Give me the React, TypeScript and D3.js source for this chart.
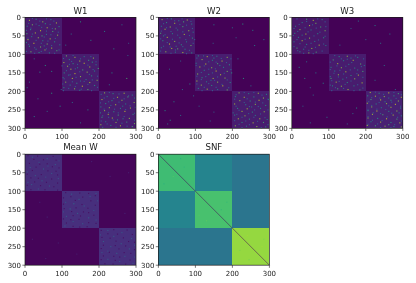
import React from "react";
import * as d3 from "d3";

type Spot = [number, number, number];

const ticksX = [0, 100, 200, 300];
const ticksY = [0, 50, 100, 150, 200, 250, 300];
const blockEdges = [0, 100, 200, 300];

const levelsW1 = [[0.075, 0.004, 0.004], [0.004, 0.08, 0.004], [0.004, 0.004, 0.08]];
const levelsW2 = [[0.075, 0.004, 0.004], [0.004, 0.08, 0.004], [0.004, 0.004, 0.08]];
const levelsW3 = [[0.065, 0.004, 0.004], [0.004, 0.075, 0.004], [0.004, 0.004, 0.09]];
const levelsMean = [[0.125, 0.012, 0.012], [0.012, 0.135, 0.012], [0.012, 0.012, 0.135]];
const levelsSNF = [[0.69, 0.45, 0.39], [0.45, 0.71, 0.39], [0.39, 0.39, 0.84]];

const spotsW1: Spot[] = [
  [8,12,.9],[5,30,.6],[12,48,.85],[6,70,.5],[15,85,.9],[20,20,.8],[24,6,.5],[22,38,.45],[28,60,.9],[25,92,.6],
  [33,15,.6],[36,42,.95],[38,75,.7],[42,28,.9],[44,5,.7],[46,58,.5],[48,88,.85],[52,18,.5],[55,36,.85],[58,68,.9],
  [60,8,.9],[63,48,.5],[66,80,.6],[70,24,.95],[72,60,.8],[74,94,.5],[78,12,.6],[80,42,.8],[83,72,.9],[86,30,.5],
  [88,54,.85],[90,86,.7],[93,16,.8],[95,38,.6],[96,66,.5],[17,55,.6],[31,82,.8],[50,46,.7],[68,4,.5],[77,52,.45],
  [104,112,.8],[108,135,.9],[106,160,.5],[110,185,.85],[114,120,.5],[118,148,.9],[116,172,.65],[122,105,.9],[125,130,.6],[124,160,.95],
  [128,192,.5],[132,115,.85],[136,142,.5],[134,175,.9],[140,124,.9],[142,156,.7],[145,188,.55],[150,106,.6],[152,135,.95],[148,168,.85],
  [156,118,.5],[160,150,.85],[158,180,.6],[165,128,.9],[168,165,.5],[170,195,.85],[175,110,.85],[178,140,.6],[176,175,.9],[183,122,.5],
  [186,155,.95],[184,188,.6],[190,105,.6],[193,134,.85],[195,170,.75],[197,148,.5],[121,182,.6],[172,150,.45],[138,198,.7],[163,103,.5],
  [204,215,.85],[206,238,.6],[205,268,.9],[210,290,.5],[214,222,.5],[216,250,.9],[215,278,.7],[222,208,.9],[225,235,.6],[224,262,.85],
  [230,295,.85],[233,218,.6],[236,245,.9],[234,272,.5],[242,205,.55],[244,228,.85],[246,258,.5],[245,285,.9],[252,215,.85],[255,240,.6],
  [254,270,.95],[262,225,.9],[264,252,.7],[262,292,.6],[270,208,.65],[272,236,.9],[274,265,.5],[273,282,.85],[282,218,.5],[284,246,.85],
  [283,275,.65],[290,205,.85],[292,232,.55],[293,258,.9],[295,290,.7],[240,264,.45],[258,204,.5],[277,250,.6],[218,296,.45],[287,296,.8],
  [12,150,.6],[20,262,.4],[38,215,.5],[45,125,.4],[62,178,.5],[70,280,.3],[85,240,.5],[112,25,.4],[130,55,.6],[148,40,.5],[146,72,.5],
  [175,12,.4],[150,235,.5],[165,275,.7],[182,228,.4],[195,98,.4],[205,72,.6],[220,35,.4],[240,95,.5],[254,60,.4],[268,25,.5],[285,150,.4],[250,170,.5],[230,128,.4],[103,278,.35],[190,6,.4],[75,110,.4]
];

const faintW1 = [
  [3,20],[10,40],[4,58],[10,78],[16,10],[18,30],[19,68],[27,45],[29,16],[30,74],[35,4],[37,58],[40,90],[45,20],[47,70],[53,52],[56,8],[57,82],[62,30],[64,62],[70,44],[73,10],[76,72],[82,26],[85,58],[88,92],[92,4],[92,44],[97,26],[97,80],
  [103,130],[106,178],[111,104],[112,150],[119,126],[120,192],[127,142],[129,170],[131,100],[139,136],[141,184],[144,112],[147,148],[154,174],[155,122],[159,196],[162,138],[166,106],[169,182],[174,128],[173,160],[180,102],[181,170],[187,136],[189,196],[192,118],[194,152],[198,104],[198,180],[127,120],
  [203,228],[207,254],[208,206],[212,280],[218,214],[219,240],[220,268],[228,226],[229,254],[231,204],[238,232],[239,284],[243,298],[248,214],[249,272],[257,226],[258,252],[259,296],[266,210],[268,268],[270,226],[277,238],[278,296],[280,206],[286,262],[288,222],[294,276],[297,246],[297,210],[248,242]
];

const spotsW2: Spot[] = [
  [6,10,.85],[4,35,.6],[9,55,.5],[7,78,.9],[14,22,.6],[16,44,.9],[18,90,.5],[24,8,.5],[26,32,.85],[25,66,.7],
  [32,18,.9],[34,52,.5],[36,82,.85],[43,6,.7],[44,38,.55],[46,70,.9],[54,24,.9],[55,58,.5],[56,92,.6],[63,12,.6],
  [65,44,.85],[66,76,.5],[72,30,.95],[74,62,.6],[76,88,.8],[82,8,.5],[84,36,.9],[85,52,.75],[86,72,.5],[93,20,.85],
  [94,46,.5],[95,66,.9],[96,90,.6],[40,94,.5],[60,98,.45],[12,68,.7],[50,14,.5],[78,48,.45],
  [104,108,.6],[106,132,.9],[105,158,.5],[108,186,.85],[114,118,.85],[116,146,.55],[118,172,.9],[124,102,.5],[126,128,.95],[125,160,.7],
  [128,192,.6],[134,112,.9],[136,144,.85],[135,176,.55],[143,124,.55],[145,156,.95],[146,186,.8],[153,106,.85],[154,136,.6],[155,168,.9],
  [163,118,.6],[165,148,.9],[164,180,.85],[172,104,.9],[174,130,.5],[175,160,.85],[176,194,.55],[183,116,.85],[184,144,.6],[185,174,.95],
  [192,108,.55],[194,132,.9],[195,160,.5],[196,186,.8],[130,166,.5],[170,142,.45],[150,198,.6],[110,150,.5],
  [204,218,.85],[206,244,.5],[205,270,.9],[208,292,.55],[214,208,.55],[216,232,.9],[215,258,.6],[218,284,.85],[225,220,.85],[226,248,.6],
  [224,272,.95],[234,206,.9],[236,236,.5],[235,262,.85],[238,290,.6],[246,214,.6],[247,240,.9],[246,276,.55],[254,226,.9],[256,254,.6],
  [255,286,.85],[264,206,.55],[266,234,.85],[265,262,.5],[274,216,.9],[275,246,.6],[274,274,.9],[276,294,.5],[284,226,.6],[285,256,.9],
  [284,284,.7],[293,208,.85],[294,238,.5],[295,266,.85],[296,290,.6],[258,202,.45],[242,252,.45],[222,298,.5],
  [18,228,.6],[20,150,.45],[28,200,.4],[35,255,.5],[55,210,.35],[60,285,.45],[76,260,.5],[70,148,.35],[112,215,.4],[118,60,.35],[140,30,.4],
  [165,230,.6],[180,85,.5],[195,65,.4],[212,95,.4],[228,42,.5],[252,18,.55],[265,60,.4],[278,32,.55],[280,140,.4],[256,150,.35],[240,110,.35],[288,25,.4],[185,250,.4]
];

const faintW2 = [
  [3,24],[4,64],[9,44],[11,88],[17,14],[19,58],[21,76],[28,22],[29,48],[30,92],[37,8],[38,34],[39,66],[47,18],[48,52],[49,84],[58,6],[59,38],[60,74],[68,24],[69,56],[70,94],[78,14],[79,66],[80,32],[88,46],[89,84],[91,6],[97,34],[98,76],
  [103,146],[104,122],[110,104],[111,170],[112,196],[120,136],[121,156],[122,184],[130,102],[131,124],[139,154],[140,136],[141,196],[149,116],[150,146],[151,178],[159,104],[160,128],[161,160],[169,186],[168,116],[170,152],[179,136],[180,104],[181,172],[189,124],[189,156],[190,190],[198,118],[198,146],
  [203,232],[203,258],[209,210],[210,280],[220,240],[221,296],[221,206],[229,262],[230,232],[231,282],[240,210],[241,246],[241,270],[250,296],[251,218],[250,260],[260,244],[261,276],[262,212],[270,226],[270,258],[271,288],[279,206],[280,236],[281,268],[289,218],[290,246],[290,296],[298,226],[298,278]
];

const spotsW3: Spot[] = [
  [5,40,.7],[8,58,.9],[6,82,.6],[14,28,.5],[16,65,.8],[22,48,.9],[24,10,.5],[26,78,.7],[33,22,.85],[34,52,.5],
  [36,90,.8],[43,8,.6],[45,38,.9],[44,70,.55],[54,18,.55],[56,48,.85],[55,86,.6],[63,28,.9],[65,62,.5],[66,6,.5],
  [73,40,.55],[75,74,.9],[76,92,.5],[83,14,.7],[84,54,.85],[86,32,.5],[93,22,.55],[94,66,.7],[96,46,.85],[48,28,.45],
  [106,128,.6],[105,150,.85],[108,178,.55],[115,112,.7],[117,140,.5],[116,166,.9],[125,124,.9],[127,154,.5],[126,186,.75],[135,106,.55],
  [136,134,.85],[137,170,.55],[145,116,.5],[147,146,.9],[146,192,.7],[155,126,.85],[157,160,.6],[156,180,.9],[165,106,.7],[167,138,.55],
  [166,170,.85],[175,120,.9],[176,150,.6],[177,190,.9],[185,110,.55],[186,134,.85],[185,168,.55],[193,124,.7],[195,152,.9],[196,184,.6],
  [130,196,.45],[160,104,.45],[110,160,.45],[142,178,.45],
  [203,212,.9],[205,236,.6],[204,262,.95],[206,288,.7],[212,205,.6],[213,226,.9],[214,250,.85],[212,276,.6],[216,296,.9],[222,214,.7],
  [223,240,.95],[224,268,.6],[226,288,.85],[232,204,.9],[234,228,.55],[233,256,.85],[235,280,.95],[242,216,.85],[244,242,.5],[243,268,.9],
  [245,294,.6],[252,206,.6],[253,230,.95],[254,262,.55],[253,284,.85],[262,218,.9],[263,246,.7],[264,274,.9],[266,296,.55],[272,206,.85],
  [273,232,.6],[274,256,.95],[275,284,.7],[282,214,.55],[283,240,.9],[284,268,.6],[285,292,.9],[292,204,.9],[293,226,.7],[294,252,.85],
  [295,276,.55],[296,296,.85],[228,252,.5],[258,290,.5],[290,262,.7],[218,262,.45],
  [10,180,.45],[22,225,.5],[30,160,.35],[45,265,.45],[60,200,.4],[75,130,.35],[70,240,.4],[120,40,.4],[135,20,.5],[150,65,.45],[165,35,.5],
  [178,85,.5],[190,50,.4],[130,250,.45],[170,225,.4],[195,280,.4],[210,58,.4],[225,130,.4],[240,30,.35],[260,165,.4],[270,95,.45],[285,50,.4],[245,175,.55],[288,150,.35]
];

const faintW3 = [
  [4,14],[4,70],[11,40],[12,90],[19,20],[20,56],[28,36],[29,66],[30,6],[38,16],[39,44],[40,76],[49,4],[50,60],[51,90],[59,36],[60,14],[61,72],[70,52],[71,22],[72,86],[79,6],[80,36],[81,64],[89,46],[90,16],[91,82],[97,32],[98,58],[25,92],
  [103,116],[104,172],[112,134],[112,194],[113,150],[121,104],[122,162],[131,122],[132,146],[133,188],[141,104],[142,158],[143,130],[151,114],[152,176],[153,140],[161,126],[162,192],[163,148],[171,108],[172,160],[173,128],[181,144],[182,178],[183,104],[190,118],[191,192],[192,140],[198,108],[198,168],
  [202,226],[203,276],[208,248],[209,296],[217,216],[218,238],[219,282],[228,208],[229,270],[230,236],[238,216],[239,262],[240,294],[248,230],[249,254],[250,206],[258,220],[259,270],[260,240],[268,206],[269,258],[270,286],[278,218],[279,244],[280,296],[288,232],[289,206],[290,278],[298,240],[298,268]
];

const spotsMean: Spot[] = [
  [8,20,.32],[12,60,.34],[22,38,.3],[28,82,.33],[36,14,.34],[40,50,.36],[52,72,.32],[58,28,.34],[66,90,.3],[72,46,.35],
  [82,18,.32],[86,66,.34],[94,36,.3],[18,92,.28],[48,6,.3],[76,8,.3],[32,62,.28],[62,56,.28],
  [108,126,.34],[114,176,.32],[122,146,.36],[130,110,.32],[134,132,.42],[140,160,.34],[148,122,.4],[152,186,.3],[160,142,.35],[168,112,.34],
  [172,172,.36],[182,130,.32],[188,156,.34],[194,108,.3],[106,192,.28],[126,196,.28],[156,104,.28],[178,192,.3],
  [206,224,.34],[212,262,.32],[222,240,.36],[228,288,.32],[236,212,.34],[242,260,.36],[250,232,.34],[256,282,.35],[266,208,.3],[268,248,.36],
  [276,270,.34],[284,224,.34],[290,256,.33],[295,292,.3],[218,204,.28],[246,296,.3],[278,296,.28],[262,224,.28],
  [20,180,.12],[60,230,.11],[130,40,.12],[170,60,.13],[240,90,.12],[270,140,.1],[50,280,.11],[160,270,.12],[230,20,.11],[282,56,.12]
];

const faintMean = [
  [4,8],[5,34],[6,76],[14,24],[15,50],[16,84],[25,12],[26,60],[27,40],[34,74],[35,30],[37,92],[44,20],[45,62],[46,84],[54,6],[55,44],[56,88],[64,16],[65,36],[67,72],[75,26],[76,58],[78,88],[84,6],[85,42],[88,78],[96,16],[96,54],[97,88],
  [104,110],[105,148],[106,172],[115,124],[116,156],[118,104],[125,136],[126,178],[135,104],[136,154],[138,190],[145,138],[146,170],[147,106],[155,126],[156,158],[165,186],[166,130],[167,150],[175,104],[176,146],[177,124],[185,172],[186,112],[187,192],[195,130],[196,168],[197,148],[112,190],[158,172],
  [204,240],[205,276],[206,206],[215,224],[216,250],[217,290],[225,208],[226,266],[227,230],[235,246],[236,280],[238,296],[246,212],[247,244],[248,272],[255,206],[256,254],[258,296],[265,228],[266,268],[268,286],[275,212],[276,240],[278,256],[285,206],[286,284],[287,244],[296,216],[297,238],[297,272]
];

const spotsSNF: Spot[] = [
  [20,20,.72],[35,70,.64],[60,40,.74],[80,15,.63],[72,85,.72],[12,60,.62],
  [120,120,.75],[150,170,.64],[180,130,.76],[130,185,.66],[165,110,.74],
  [220,240,.87],[260,220,.79],[250,280,.87],[285,245,.79],[230,285,.8]
];

const noFaint: number[][] = [];
const faintValue = 0.27;
const faintValueMean = 0.04;
const spotOpacity = 0.72;

const diagonalEnds = [0, 300];
const diagonalOpacity = 0.5;

const axisLeft = [25, 158.4, 291.8, 25, 158.4];
const axisTop = [17.4, 17.4, 17.4, 154.2, 154.2];
const side = 111;

const panels = [
  { title: "W1", levels: levelsW1, spots: spotsW1, faint: faintW1, faintV: faintValue, diagonal: false },
  { title: "W2", levels: levelsW2, spots: spotsW2, faint: faintW2, faintV: faintValue, diagonal: false },
  { title: "W3", levels: levelsW3, spots: spotsW3, faint: faintW3, faintV: faintValue, diagonal: false },
  { title: "Mean W", levels: levelsMean, spots: spotsMean, faint: faintMean, faintV: faintValueMean, diagonal: false },
  { title: "SNF", levels: levelsSNF, spots: spotsSNF, faint: noFaint, faintV: faintValue, diagonal: true },
];

const ink = "#1c1c1c";
const font = "'DejaVu Sans', sans-serif";

function Panel({ p, left, top }: { p: (typeof panels)[number]; left: number; top: number }) {
  const x = d3.scaleLinear().domain([0, 300]).range([left, left + side]);
  const y = d3.scaleLinear().domain([0, 300]).range([top, top + side]);
  const cell = x(3) - x(0);
  return (
    <g>
      {p.levels.map((row, r) =>
        row.map((v, c) => (
          <rect
            key={`${r}-${c}`}
            x={x(blockEdges[c])}
            y={y(blockEdges[r])}
            width={x(blockEdges[c + 1]) - x(blockEdges[c])}
            height={y(blockEdges[r + 1]) - y(blockEdges[r])}
            fill={d3.interpolateViridis(v)}
            shapeRendering="crispEdges"
          />
        ))
      )}
      {p.faint.map(([r, c], i) => (
        <rect key={i} x={x(c) - cell / 2} y={y(r) - cell / 2} width={cell} height={cell} fill={d3.interpolateViridis(p.faintV)} />
      ))}
      {p.spots.map(([r, c, v], i) => (
        <rect key={i} x={x(c) - cell / 2} y={y(r) - cell / 2} width={cell} height={cell} fill={d3.interpolateViridis(v)} fillOpacity={spotOpacity} />
      ))}
      {p.diagonal && (
        <line
          x1={x(diagonalEnds[0])}
          y1={y(diagonalEnds[0])}
          x2={x(diagonalEnds[1])}
          y2={y(diagonalEnds[1])}
          stroke={d3.interpolateViridis(0)}
          strokeOpacity={diagonalOpacity}
          strokeWidth={1}
        />
      )}
      <rect x={left} y={top} width={side} height={side} fill="none" stroke={ink} strokeWidth={0.7} />
      {ticksY.map((t) => (
        <g key={t}>
          <line x1={left - 2.6} x2={left} y1={y(t)} y2={y(t)} stroke={ink} strokeWidth={0.6} />
          <text x={left - 4} y={y(t)} dy="0.35em" textAnchor="end" fontSize={7} fill={ink} fontFamily={font}>
            {t}
          </text>
        </g>
      ))}
      {ticksX.map((t) => (
        <g key={t}>
          <line x1={x(t)} x2={x(t)} y1={top + side} y2={top + side + 2.6} stroke={ink} strokeWidth={0.6} />
          <text x={x(t)} y={top + side + 10.5} textAnchor="middle" fontSize={7} fill={ink} fontFamily={font}>
            {t}
          </text>
        </g>
      ))}
      <text x={left + side / 2} y={top - 3.8} textAnchor="middle" fontSize={8.6} fill={ink} fontFamily={font}>
        {p.title}
      </text>
    </g>
  );
}

export default function App() {
  return (
    <svg
      width={416}
      height={283}
      style={{ position: "absolute", left: 0, top: 0, background: "#fff", filter: "blur(0.35px)" }}
    >
      {panels.map((p, i) => (
        <Panel key={p.title} p={p} left={axisLeft[i]} top={axisTop[i]} />
      ))}
    </svg>
  );
}
